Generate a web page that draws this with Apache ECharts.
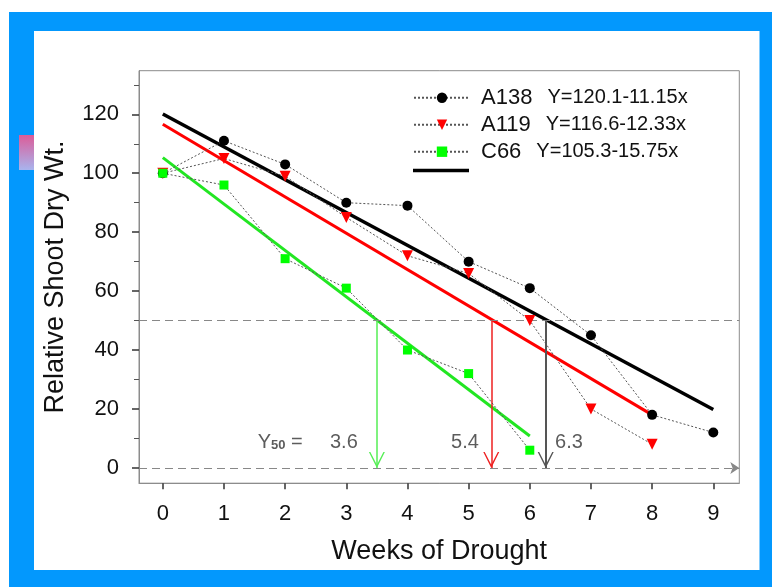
<!DOCTYPE html>
<html>
<head>
<meta charset="utf-8">
<script src="https://cdn.jsdelivr.net/npm/echarts@6/dist/echarts.min.js"></script>
<style>
  html, body { margin: 0; padding: 0; background: #fff; }
  #chart { width: 772px; height: 587px; }
</style>
</head>
<body>
<div id="chart"></div>
<script>
  // weeks of drought
  const weeks = [0, 1, 2, 3, 4, 5, 6, 7, 8, 9]
  // relative shoot dry wt. per line
  const a138 = [100, 111, 103, 90, 89, 70, 61, 45, 18, 12]
  const a119 = [100, 105, 99, 85, 72, 66, 50, 20, 8]
  const c66 = [100, 96, 71, 61, 40, 32, 6]
  // regression lines, start and end
  const fitA138 = [[0, 120.1], [9, 19.8]]
  const fitA119 = [[0, 116.6], [8, 18]]
  const fitC66 = [[0, 105.3], [6, 10.8]]
  const equations = ['Y=120.1-11.15x', 'Y=116.6-12.33x', 'Y=105.3-15.75x']
  const names = ['A138', 'A119', 'C66']
  // Y50: where the fits cross 50
  const y50X = [3.5, 5.37, 6.26]
  const y50Text = ['3.6', '5.4', '6.3']
  const xTicks = [0, 1, 2, 3, 4, 5, 6, 7, 8, 9]
  const yTicks = [0, 20, 40, 60, 80, 100, 120]
  const yMinor = [10, 30, 50, 70, 90, 110, 130]

  const font = 'Liberation Sans, Arial, sans-serif'
  const labelX = [1.92, 2.96, 4.94, 6.64]
  const labelY = 8.5

  const pairs = (vals) => vals.map((v, i) => [weeks[i], v])
  // open arrow head (points up, tip at top)
  const vHead = 'path://M0,16L6,0L12,16L10.9,16L6,3.2L1.1,16Z'

  const dotted = { color: '#555', width: 1, type: [2, 2] }

  const chart = echarts.init(document.getElementById('chart'))
  chart.setOption({
    animation: false,
    textStyle: { fontFamily: font },
    graphic: [
      { type: 'rect', z: -10, shape: { x: 9, y: 12, width: 763, height: 575 }, style: { fill: '#0398fd' } },
      { type: 'rect', z: -9, shape: { x: 34, y: 31, width: 725.5, height: 539 }, style: { fill: '#fff' } },
      {
        type: 'rect', z: -9, shape: { x: 19, y: 135, width: 15, height: 35 },
        style: {
          fill: new echarts.graphic.LinearGradient(0, 0, 0, 1, [
            { offset: 0, color: '#dc5c98' },
            { offset: 1, color: '#a8b4ee' }
          ])
        }
      }
    ],
    grid: {
      left: 139, right: 32.7, top: 70.7, bottom: 103.8,
      show: true, borderColor: '#8c8c8c', borderWidth: 1,
      outerBoundsMode: 'none'
    },
    legend: [
      {
        orient: 'vertical', left: 413, top: 86.7, padding: 0,
        itemWidth: 56, itemHeight: 13, itemGap: 5,
        data: names,
        formatter: (name) => `{n|${name}}{e|${equations[names.indexOf(name)]}}`,
        textStyle: {
          rich: {
            n: { fontSize: 22, color: '#111', padding: [0, 0, 0, 6], lineHeight: 24, fontFamily: font },
            e: { fontSize: 20, color: '#111', padding: [0, 0, 0, 15], lineHeight: 24, fontFamily: font }
          }
        }
      },
      {
        orient: 'vertical', left: 413, top: 164, padding: 0,
        itemWidth: 56, itemHeight: 13,
        data: [{ name: 'Linear fit', icon: 'path://M0,0H56V3.5H0Z' }],
        formatter: () => ''
      }
    ],
    xAxis: {
      type: 'value', min: -0.389, max: 9.425,
      axisLine: { show: true, onZero: false, lineStyle: { color: '#8c8c8c' } },
      axisTick: { show: true, length: 6, customValues: xTicks, lineStyle: { color: '#333', width: 1.5 } },
      axisLabel: { customValues: xTicks, fontSize: 22, color: '#111', margin: 20 },
      splitLine: { show: false },
      name: 'Weeks of Drought', nameLocation: 'middle', nameGap: 55,
      nameTextStyle: { fontSize: 27, color: '#111' }
    },
    yAxis: [
      {
        type: 'value', min: -5.2, max: 134.8,
        axisLine: { show: true, onZero: false, lineStyle: { color: '#8c8c8c' } },
        axisTick: { show: true, length: 7, customValues: yTicks, lineStyle: { color: '#333', width: 1.5 } },
        axisLabel: { customValues: yTicks, fontSize: 22, color: '#111', margin: 20 },
        splitLine: { show: false },
        name: 'Relative Shoot Dry Wt.', nameLocation: 'middle', nameGap: 70, nameRotate: 90,
        nameTextStyle: { fontSize: 27, color: '#111' }
      },
      {
        type: 'value', min: -5.2, max: 134.8, position: 'left',
        axisLine: { show: false, onZero: false },
        axisTick: { show: true, length: 5, customValues: yMinor, lineStyle: { color: '#555', width: 1 } },
        axisLabel: { show: false },
        splitLine: { show: false }
      }
    ],
    series: [
      {
        name: 'y50 line', type: 'line', data: [], silent: true,
        markLine: {
          silent: true, symbol: 'none', label: { show: false },
          lineStyle: { color: '#888', width: 1, type: [8, 5] },
          data: [{ yAxis: 50 }]
        }
      },
      {
        name: 'zero line', type: 'line', data: [], silent: true,
        markLine: {
          silent: true, symbol: ['none', 'arrow'], symbolSize: 9, label: { show: false },
          lineStyle: { color: '#888', width: 1, type: [8, 5] },
          data: [{ yAxis: 0 }]
        }
      },
      {
        name: 'Linear fit', type: 'line', data: fitA138, symbol: 'none', color: '#000', z: 3,
        lineStyle: { color: '#000', width: 3.5 }
      },
      {
        name: 'A119 fit', type: 'line', data: fitA119, symbol: 'none', color: '#ff0000', z: 3,
        lineStyle: { color: '#ff0000', width: 3 }
      },
      {
        name: 'C66 fit', type: 'line', data: fitC66, symbol: 'none', color: '#22e622', z: 3,
        lineStyle: { color: '#22e622', width: 3 }
      },
      {
        name: 'arrows', type: 'line', data: [], silent: true,
        markLine: {
          silent: true, symbol: ['none', vHead], symbolSize: 16,
          symbolOffset: [[0, 0], [0, 8]], label: { show: false },
          data: [
            [{ coord: [y50X[0], 50], lineStyle: { color: '#55ee55', width: 1.5, type: 'solid' } }, { coord: [y50X[0], 0] }],
            [{ coord: [y50X[1], 50], lineStyle: { color: '#ee2020', width: 1.5, type: 'solid' } }, { coord: [y50X[1], 0] }],
            [{ coord: [y50X[2], 50], lineStyle: { color: '#555', width: 2, type: 'solid' } }, { coord: [y50X[2], 0] }]
          ]
        }
      },
      {
        name: 'A138', type: 'line', data: pairs(a138), z: 5,
        symbol: 'circle', symbolSize: 10, itemStyle: { color: '#000' }, lineStyle: dotted
      },
      {
        name: 'A119', type: 'line', data: pairs(a119), z: 5,
        symbol: 'triangle', symbolRotate: 180, symbolSize: 11, itemStyle: { color: '#ff0000' }, lineStyle: dotted
      },
      {
        name: 'C66', type: 'line', data: pairs(c66), z: 5,
        symbol: 'rect', symbolSize: 9, itemStyle: { color: '#00ff00' }, lineStyle: dotted
      },
      {
        name: 'Y50 labels', type: 'scatter', silent: true, symbolSize: 0, z: 6,
        data: ['Y50'].concat(y50Text).map((t, i) => ({ value: [labelX[i], labelY], text: t })),
        label: {
          show: true, position: 'inside', color: '#333', fontSize: 20,
          formatter: (p) => p.data.text === 'Y50' ? '{y|Y}{s|50}{y| =}' : p.data.text,
          rich: {
            y: { fontSize: 20, color: '#333', fontFamily: font },
            s: { fontSize: 13, color: '#333', fontWeight: 'bold', fontFamily: font, padding: [6, 0, 0, 0] }
          }
        }
      }
    ]
  })
</script>
</body>
</html>
